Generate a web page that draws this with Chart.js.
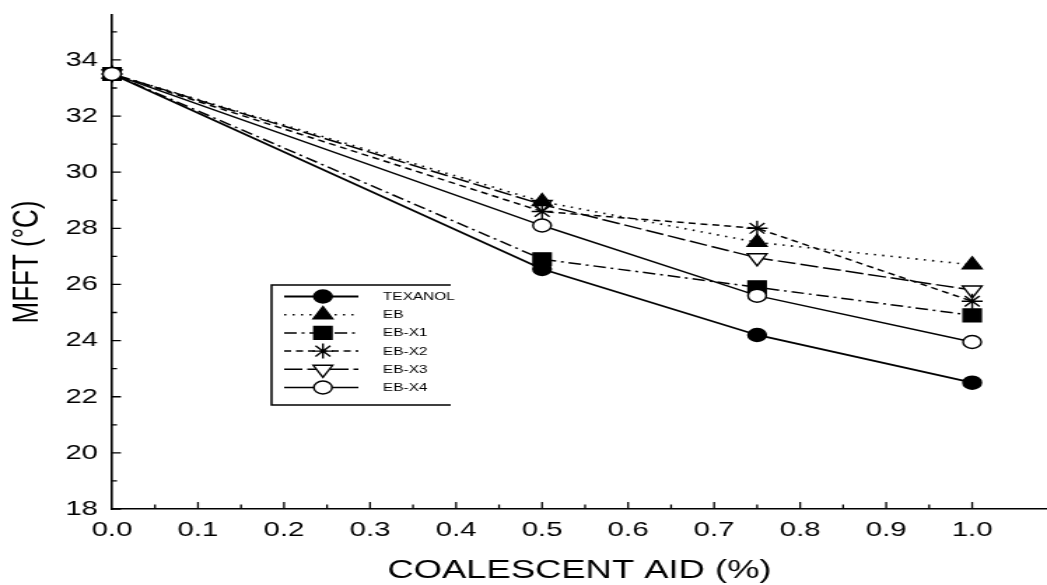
<!DOCTYPE html>
<html>
<head>
<meta charset="utf-8">
<script src="https://cdn.jsdelivr.net/npm/chart.js@4/dist/chart.umd.min.js"></script>
<style>
  html, body { margin: 0; padding: 0; background: #fff; }
  canvas { display: block; }
</style>
</head>
<body>
<canvas id="c" width="748" height="585" style="width:1047px;height:585px"></canvas>
<script>
// ---- data ----
const xValues = [0.0, 0.5, 0.75, 1.0];
const texanol = [33.5, 26.55, 24.2, 22.5];
const eb      = [33.5, 28.95, 27.5, 26.7];
const ebX1    = [33.5, 26.9, 25.9, 24.9];
const ebX2    = [33.5, 28.6, 28.0, 25.4];
const ebX3    = [33.5, 28.85, 26.95, 25.8];
const ebX4    = [33.5, 28.1, 25.6, 23.95];
const seriesNames = ['TEXANOL', 'EB', 'EB-X1', 'EB-X2', 'EB-X3', 'EB-X4'];
const xTickValues = [0.0, 0.1, 0.2, 0.3, 0.4, 0.5, 0.6, 0.7, 0.8, 0.9, 1.0];
const yTickValues = [18, 20, 22, 24, 26, 28, 30, 32, 34];

const FONT = '"Liberation Sans", Arial, Helvetica, sans-serif';
const LEGEND_FONT = '"Liberation Sans Narrow", "Arial Narrow", "Liberation Sans", Arial, sans-serif';
const pts = arr => xValues.map((x, i) => ({x: x, y: arr[i]}));

const styles = [
  {dash: [],            bw: 1.8, ps: 'circle',   r: 6.5, rot: 0,   fill: '#000', order: 1},
  {dash: [1.5, 4.5],    bw: 1.6, ps: 'triangle', r: 8,   rot: 0,   fill: '#000', order: 2},
  {dash: [9, 3.5, 2, 3.5], bw: 1.5, ps: 'rect',  r: 9,   rot: 0,   fill: '#000', order: 3},
  {dash: [5, 3.5],      bw: 1.5, ps: 'star',     r: 7.5, rot: 0,   fill: '#fff', order: 4},
  {dash: [13, 3.5],     bw: 1.5, ps: 'triangle', r: 8,   rot: 180, fill: '#fff', order: 5},
  {dash: [],            bw: 1.4, ps: 'circle',   r: 6.5, rot: 0,   fill: '#fff', order: 0}
];
const seriesData = [texanol, eb, ebX1, ebX2, ebX3, ebX4];

const datasets = seriesNames.map((name, i) => ({
  label: name,
  data: pts(seriesData[i]),
  borderColor: '#000',
  borderWidth: styles[i].bw,
  borderDash: styles[i].dash,
  pointStyle: styles[i].ps,
  pointRadius: styles[i].r,
  pointRotation: styles[i].rot,
  pointBackgroundColor: styles[i].fill,
  pointBorderColor: '#000',
  pointBorderWidth: 1.4,
  tension: 0,
  fill: false,
  clip: false,
  order: styles[i].order
}));

// inward tick marks on both axes
const tickPlugin = {
  id: 'inTicks',
  afterDraw(chart) {
    const ctx = chart.ctx;
    const xs = chart.scales.x, ys = chart.scales.y;
    const ca = chart.chartArea;
    ctx.save();
    ctx.strokeStyle = '#000';
    ctx.lineWidth = 1.3;
    ctx.beginPath();
    for (let v = 18; v <= 35; v++) {
      const y = ys.getPixelForValue(v);
      const len = (v % 2 === 0) ? 6.4 : 3.6;
      ctx.moveTo(ca.left, y); ctx.lineTo(ca.left + len, y);
    }
    for (let k = 1; k <= 20; k++) {
      const v = k * 0.05;
      const x = xs.getPixelForValue(v);
      const len = (k % 2 === 0) ? 7 : 4.5;
      ctx.moveTo(x, ca.bottom); ctx.lineTo(x, ca.bottom - len);
    }
    ctx.stroke();
    ctx.restore();
  }
};

// boxed legend drawn inside the plot
const legendPlugin = {
  id: 'boxLegend',
  afterDraw(chart) {
    const ctx = chart.ctx;
    const L = 194, T = 285, B = 405, R = 322;
    ctx.save();
    ctx.strokeStyle = '#000';
    ctx.lineWidth = 1.5;
    ctx.setLineDash([]);
    ctx.beginPath();
    ctx.moveTo(R, T); ctx.lineTo(L, T); ctx.lineTo(L, B); ctx.lineTo(R, B);
    ctx.stroke();
    chart.data.datasets.forEach((ds, i) => {
      const y = 296.5 + i * 18.2;
      ctx.strokeStyle = '#000';
      ctx.lineWidth = ds.borderWidth;
      ctx.setLineDash(ds.borderDash);
      ctx.beginPath(); ctx.moveTo(203, y); ctx.lineTo(256, y); ctx.stroke();
      ctx.setLineDash([]);
      ctx.fillStyle = ds.pointBackgroundColor;
      ctx.lineWidth = ds.pointBorderWidth;
      Chart.helpers.drawPoint(ctx, {
        pointStyle: ds.pointStyle, radius: ds.pointRadius,
        rotation: ds.pointRotation, borderWidth: ds.pointBorderWidth
      }, 230.7, y);
      ctx.fillStyle = '#000';
      ctx.font = '11px ' + LEGEND_FONT;
      ctx.textBaseline = 'middle';
      ctx.textAlign = 'left';
      ctx.fillText(ds.label, 273.6, y + 0.5);
    });
    ctx.restore();
  }
};

new Chart(document.getElementById('c'), {
  type: 'line',
  data: { datasets: datasets },
  options: {
    responsive: false,
    devicePixelRatio: 1,
    animation: false,
    layout: { autoPadding: false, padding: { top: 15, right: 0, bottom: 0, left: 0 } },
    plugins: { legend: { display: false }, tooltip: { enabled: false } },
    scales: {
      x: {
        type: 'linear',
        min: 0, max: 1.087,
        afterBuildTicks: s => { s.ticks = xTickValues.map(v => ({value: v})); },
        afterFit: s => { s.height = 76; s.paddingLeft = 0; s.paddingRight = 0; },
        grid: { display: false, drawTicks: false },
        border: { display: true, color: '#000', width: 1.6 },
        ticks: {
          color: '#000', padding: 9, maxRotation: 0, autoSkip: false,
          font: { family: FONT, size: 21 },
          callback: v => Number(v).toFixed(1)
        },
        title: {
          display: true, text: 'COALESCENT AID (%)', color: '#000',
          font: { family: FONT, size: 26, lineHeight: 1 },
          padding: { top: 0, bottom: 1 }
        }
      },
      y: {
        type: 'linear',
        min: 18, max: 35.6,
        afterBuildTicks: s => { s.ticks = yTickValues.map(v => ({value: v})); },
        afterFit: s => { s.width = 80; s.paddingTop = 0; s.paddingBottom = 0; },
        grid: { display: false, drawTicks: false },
        border: { display: true, color: '#000', width: 1.6 },
        ticks: {
          color: '#000', padding: 10, autoSkip: false,
          font: { family: FONT, size: 21 },
          callback: v => String(v)
        },
        title: {
          display: true, text: 'MFFT (°C)', color: '#000',
          font: { family: FONT, size: 26, lineHeight: 1 },
          padding: { top: 7, bottom: 0 }
        }
      }
    }
  },
  plugins: [tickPlugin, legendPlugin]
});
</script>
</body>
</html>
